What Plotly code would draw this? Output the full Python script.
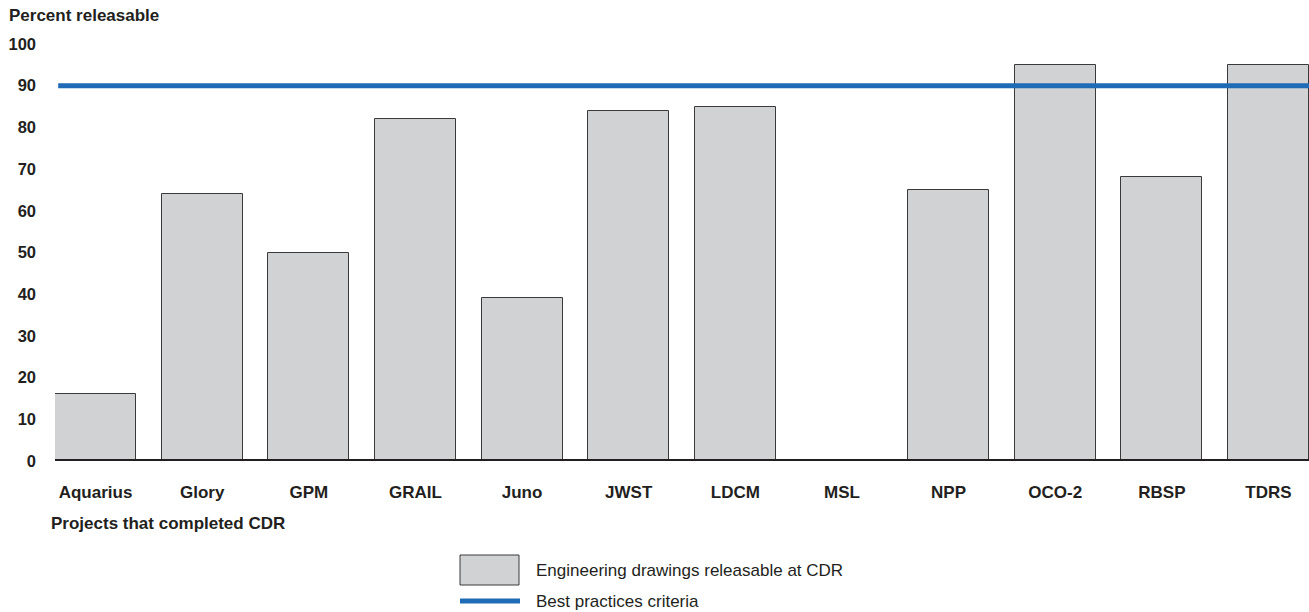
import plotly.graph_objects as go

# Engineering drawings releasable at CDR, by project
projects = ["Aquarius", "Glory", "GPM", "GRAIL", "Juno", "JWST",
            "LDCM", "MSL", "NPP", "OCO-2", "RBSP", "TDRS"]
releasable = [16, 64, 50, 82, 39, 84, 85, 0, 65, 95, 68, 95]
best_practice = 90
y_ticks = [0, 10, 20, 30, 40, 50, 60, 70, 80, 90, 100]

W, H = 1309, 612
ML, MR, MT, MB = 55, 0, 44, 151
PW, PH = W - ML - MR, H - MT - MB

BAR_W = 0.76
FONT = "Liberation Sans, Arial, Helvetica, sans-serif"
BAR_FILL = "#d1d2d4"
BAR_EDGE = "#3a3a3a"
BLUE = "#1f6bb5"
TXT = "#231f20"
FS = 17
FS_TICK = 16.5


def px_x(px):
    return (px - ML) / PW


def px_y(py):
    return (H - MB - py) / PH


xs = list(range(len(projects)))
x_lo, x_hi = -BAR_W / 2, len(projects) - 1 + BAR_W / 2

fig = go.Figure()
fig.add_trace(go.Bar(
    x=xs, y=releasable, width=BAR_W,
    marker=dict(color=BAR_FILL, line=dict(color=BAR_EDGE, width=1)),
    showlegend=False, hoverinfo="skip",
))
fig.add_trace(go.Scatter(
    x=[x_lo + 0.03, x_hi], y=[best_practice, best_practice], mode="lines",
    line=dict(color=BLUE, width=5), showlegend=False, hoverinfo="skip",
))

# baseline at zero
fig.add_shape(type="line", xref="paper", yref="y", x0=0, x1=1, y0=0, y1=0,
              line=dict(color="#231f20", width=4), layer="above")

annotations = [
    dict(text="<b>Percent releasable</b>", xref="paper", yref="paper",
         x=px_x(7), y=px_y(16), xanchor="left", yanchor="middle",
         showarrow=False, font=dict(size=FS, color=TXT, family=FONT)),
    dict(text="<b>Projects that completed CDR</b>", xref="paper", yref="paper",
         x=px_x(49), y=px_y(523), xanchor="left", yanchor="middle",
         showarrow=False, font=dict(size=FS, color=TXT, family=FONT)),
    dict(text="Engineering drawings releasable at CDR", xref="paper", yref="paper",
         x=px_x(534), y=px_y(570), xanchor="left", yanchor="middle",
         showarrow=False, font=dict(size=FS, color=TXT, family=FONT)),
    dict(text="Best practices criteria", xref="paper", yref="paper",
         x=px_x(534), y=px_y(601), xanchor="left", yanchor="middle",
         showarrow=False, font=dict(size=FS, color=TXT, family=FONT)),
]

# legend keys
fig.add_shape(type="rect", xref="paper", yref="paper",
              x0=px_x(460), x1=px_x(519), y0=px_y(585), y1=px_y(555),
              fillcolor=BAR_FILL, line=dict(color=BAR_EDGE, width=1))
fig.add_shape(type="line", xref="paper", yref="paper",
              x0=px_x(460), x1=px_x(520), y0=px_y(601), y1=px_y(601),
              line=dict(color=BLUE, width=5))

fig.update_layout(
    width=W, height=H,
    margin=dict(l=ML, r=MR, t=MT, b=MB, pad=0),
    paper_bgcolor="white", plot_bgcolor="white",
    bargap=0,
    annotations=annotations,
    font=dict(family=FONT, color=TXT),
    xaxis=dict(
        range=[x_lo, x_hi], tickmode="array", tickvals=xs,
        ticktext=[f"<b>{p}</b>" for p in projects],
        showgrid=False, zeroline=False, showline=False,
        ticks="", ticklabelstandoff=19,
        tickfont=dict(size=FS, color=TXT, family=FONT),
    ),
    yaxis=dict(
        range=[0, 100], tickmode="array", tickvals=y_ticks,
        ticktext=[f"<b>{v}</b>" for v in y_ticks],
        showgrid=False, zeroline=False, showline=False,
        ticks="", ticklabelstandoff=18,
        tickfont=dict(size=FS_TICK, color=TXT, family=FONT),
    ),
)

fig.write_html("out.html")
